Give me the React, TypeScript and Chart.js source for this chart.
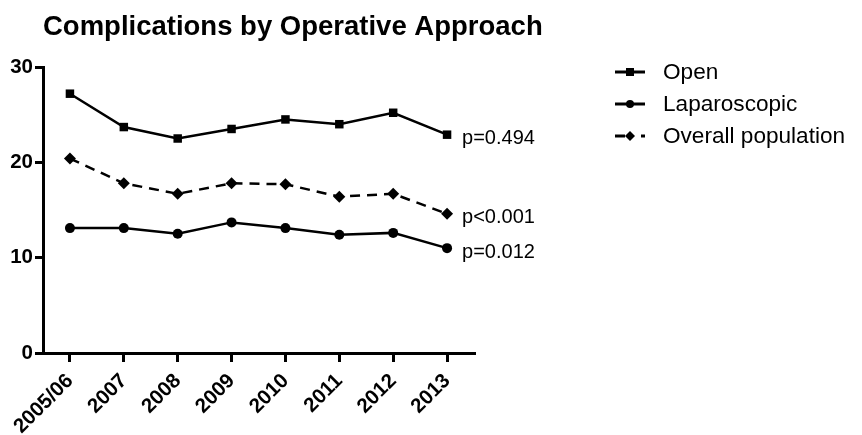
import React, { useEffect, useRef } from "react";
import { Chart, registerables } from "chart.js";

Chart.register(...registerables);

const categories = ["2005/06", "2007", "2008", "2009", "2010", "2011", "2012", "2013"];
const openValues = [27.2, 23.7, 22.5, 23.5, 24.5, 24.0, 25.2, 22.9];
const laparoscopicValues = [13.1, 13.1, 12.5, 13.7, 13.1, 12.4, 12.6, 11.0];
const overallValues = [20.4, 17.8, 16.7, 17.8, 17.7, 16.4, 16.7, 14.6];
const seriesNames = ["Open", "Laparoscopic", "Overall population"];
const pValueLabels = ["p=0.494", "p=0.012", "p<0.001"];
const yTicks = [0, 10, 20, 30];
const titleText = "Complications by Operative Approach";

const FONT = "'Liberation Sans', Arial, Helvetica, sans-serif";

const overlayPlugin = {
  id: "overlay",
  afterDraw(chart: any) {
    const ctx = chart.ctx;
    ctx.save();
    // Title
    ctx.fillStyle = "#000";
    ctx.font = `bold 27.5px ${FONT}`;
    ctx.textAlign = "left";
    ctx.textBaseline = "middle";
    ctx.fillText(titleText, 43, 27);

    // p-value labels next to last points
    ctx.font = `20px ${FONT}`;
    chart.data.datasets.forEach((ds: any, i: number) => {
      const meta = chart.getDatasetMeta(i);
      const last = meta.data[meta.data.length - 1];
      if (!last) return;
      ctx.textAlign = "left";
      ctx.textBaseline = "middle";
      ctx.fillText(pValueLabels[i], last.x + 15, last.y + 4);
    });

    // Legend
    const rowsY = [72, 104, 136];
    chart.data.datasets.forEach((ds: any, i: number) => {
      const y = rowsY[i];
      const x0 = 615;
      const x1 = 645;
      ctx.strokeStyle = "#000";
      ctx.lineWidth = 3;
      if (ds.borderDash && ds.borderDash.length) {
        ctx.beginPath();
        ctx.moveTo(x0, y);
        ctx.lineTo(x0 + 10, y);
        ctx.stroke();
        ctx.beginPath();
        ctx.moveTo(x1 - 4, y);
        ctx.lineTo(x1, y);
        ctx.stroke();
      } else {
        ctx.beginPath();
        ctx.moveTo(x0, y);
        ctx.lineTo(x1, y);
        ctx.stroke();
      }
      const cx = (x0 + x1) / 2;
      ctx.fillStyle = "#000";
      const style = ds.pointStyle;
      if (style === "rect") {
        ctx.fillRect(cx - 4, y - 4, 8, 8);
      } else if (style === "circle") {
        ctx.beginPath();
        ctx.arc(cx, y, 4, 0, Math.PI * 2);
        ctx.fill();
      } else {
        ctx.beginPath();
        ctx.moveTo(cx, y - 5);
        ctx.lineTo(cx + 5, y);
        ctx.lineTo(cx, y + 5);
        ctx.lineTo(cx - 5, y);
        ctx.closePath();
        ctx.fill();
      }
      ctx.font = `22.6px ${FONT}`;
      ctx.textAlign = "left";
      ctx.textBaseline = "middle";
      ctx.fillText(ds.label, 663, y + 1);
    });
    ctx.restore();
  },
};

export default function App() {
  const canvasRef = useRef<HTMLCanvasElement | null>(null);

  useEffect(() => {
    const canvas = canvasRef.current;
    if (!canvas) return;
    const chart = new Chart(canvas, {
      type: "line",
      data: {
        labels: categories,
        datasets: [
          {
            label: seriesNames[0],
            data: openValues,
            borderColor: "#000",
            backgroundColor: "#000",
            borderWidth: 2.5,
            pointStyle: "rect",
            pointRadius: 6,
            pointBorderWidth: 0,
            tension: 0,
          },
          {
            label: seriesNames[1],
            data: laparoscopicValues,
            borderColor: "#000",
            backgroundColor: "#000",
            borderWidth: 2.5,
            pointStyle: "circle",
            pointRadius: 5,
            pointBorderWidth: 0,
            tension: 0,
          },
          {
            label: seriesNames[2],
            data: overallValues,
            borderColor: "#000",
            backgroundColor: "#000",
            borderWidth: 2.5,
            borderDash: [10, 7],
            pointStyle: "rectRot",
            pointRadius: 6,
            pointBorderWidth: 0,
            tension: 0,
          },
        ],
      },
      options: {
        responsive: false,
        animation: false,
        layout: { padding: { top: 67, right: 388, left: 0, bottom: 0 } },
        plugins: {
          legend: { display: false },
          title: { display: false },
          tooltip: { enabled: false },
        },
        scales: {
          x: {
            type: "category",
            offset: true,
            grid: {
              display: true,
              drawOnChartArea: false,
              drawTicks: true,
              tickLength: 9,
              lineWidth: 3,
              color: "#000",
              offset: false,
            },
            border: { display: true, color: "#000", width: 3 },
            ticks: {
              color: "#000",
              font: { family: FONT, size: 20.5, weight: "bold" },
              minRotation: 45,
              maxRotation: 45,
              padding: 7,
              autoSkip: false,
            },
            afterFit(scale: any) {
              scale.height = 435 - 353;
            },
          },
          y: {
            min: 0,
            max: 30,
            afterBuildTicks(scale: any) {
              scale.ticks = yTicks.map((v) => ({ value: v }));
            },
            grid: {
              display: true,
              drawOnChartArea: false,
              drawTicks: true,
              tickLength: 8,
              lineWidth: 3,
              color: "#000",
            },
            border: { display: true, color: "#000", width: 3 },
            ticks: {
              color: "#000",
              font: { family: FONT, size: 20.5, weight: "bold" },
              padding: 2,
            },
            afterFit(scale: any) {
              scale.width = 43;
            },
          },
        },
      },
      plugins: [overlayPlugin],
    } as any);
    return () => chart.destroy();
  }, []);

  return (
    <div style={{ position: "absolute", left: 0, top: 0, width: 862, height: 435, background: "#fff" }}>
      <canvas ref={canvasRef} width={862} height={435} />
    </div>
  );
}
